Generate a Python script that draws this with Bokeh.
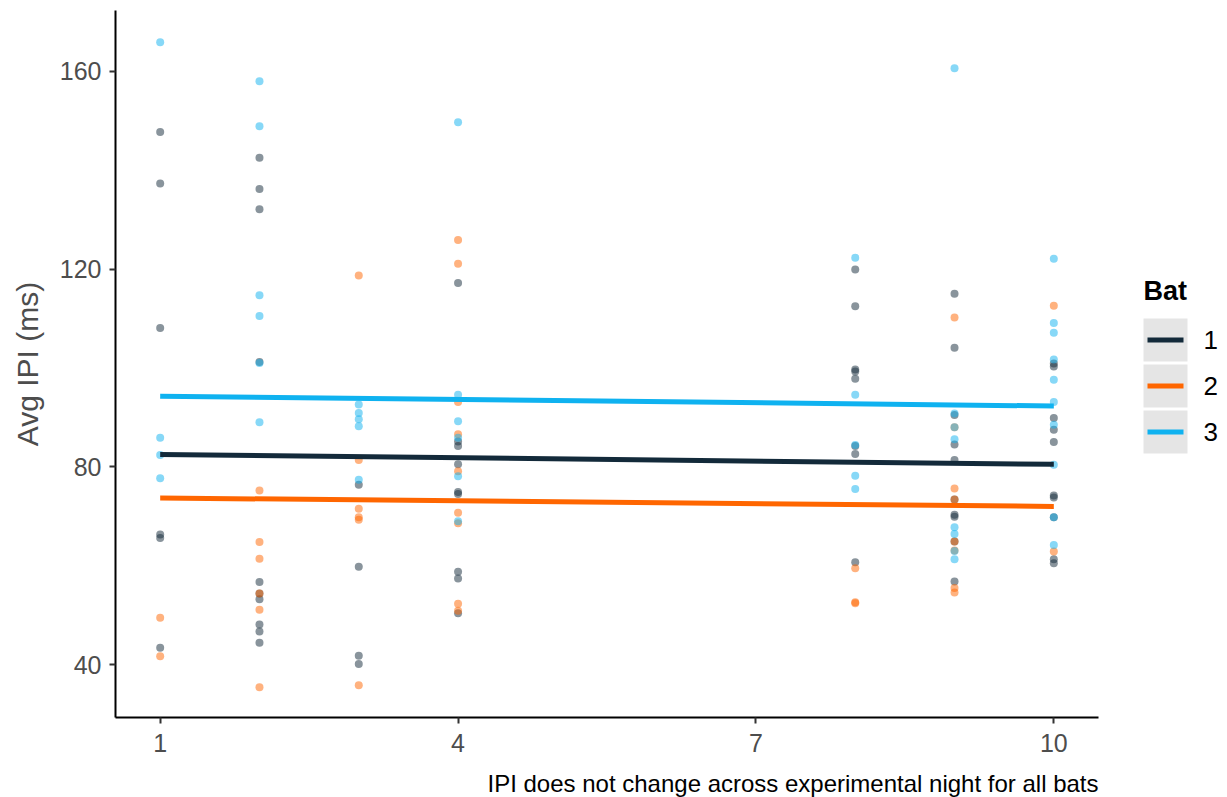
from bokeh.plotting import figure
from bokeh.models import Range1d, FixedTicker, ColumnDataSource
from bokeh.layouts import row, column
from bokeh.embed import file_html
from bokeh.resources import INLINE
from bokeh.core.properties import value

# ---- data: average inter-pulse interval (ms) per experimental night ----
bats = ["1", "2", "3"]
bat_colors = ["#132a3a", "#ff6600", "#0fb2f0"]

bat1_night = [1, 1, 1, 1, 1, 1,
              2, 2, 2, 2, 2, 2, 2, 2, 2, 2,
              3, 3, 3, 3,
              4, 4, 4, 4, 4, 4, 4, 4, 4,
              8, 8, 8, 8, 8, 8, 8, 8,
              9, 9, 9, 9, 9, 9, 9, 9, 9, 9,
              10, 10, 10, 10, 10, 10, 10, 10, 10, 10]
bat1_ipi = [147.7, 137.3, 108.1, 66.3, 65.6, 43.4,
            142.5, 136.2, 132.1, 101.2, 56.7, 54.4, 53.2, 48.1, 46.7, 44.4,
            76.4, 59.8, 41.8, 40.1,
            117.2, 85.1, 84.2, 80.5, 74.9, 74.5, 58.8, 57.4, 50.4,
            119.9, 112.5, 99.7, 99.3, 97.8, 84.2, 82.6, 60.7,
            115.0, 104.1, 90.5, 84.5, 81.4, 73.4, 70.3, 69.9, 64.9, 56.8,
            100.9, 100.3, 89.9, 87.5, 85.0, 74.2, 73.8, 69.8, 61.3, 60.5]

bat2_night = [1, 1,
              2, 2, 2, 2, 2, 2,
              3, 3, 3, 3, 3, 3,
              4, 4, 4, 4, 4, 4, 4, 4, 4,
              8, 8, 8,
              9, 9, 9, 9, 9, 9, 9, 9,
              10, 10]
bat2_ipi = [49.5, 41.7,
            75.2, 64.8, 61.4, 54.4, 51.1, 35.4,
            118.7, 81.4, 71.5, 69.8, 69.3, 35.8,
            125.9, 121.1, 93.1, 86.6, 79.1, 70.7, 68.6, 52.3, 50.9,
            59.5, 52.6, 52.4,
            110.2, 88.0, 75.6, 73.4, 64.9, 63.1, 55.5, 54.6,
            112.6, 62.9]

bat3_night = [1, 1, 1, 1,
              2, 2, 2, 2, 2, 2,
              3, 3, 3, 3, 3,
              4, 4, 4, 4, 4, 4,
              8, 8, 8, 8, 8,
              9, 9, 9, 9, 9, 9, 9, 9,
              10, 10, 10, 10, 10, 10, 10, 10, 10, 10]
bat3_ipi = [165.9, 85.9, 82.4, 77.7,
            158.0, 148.9, 114.7, 110.5, 101.0, 89.0,
            92.6, 90.9, 89.6, 88.2, 77.4,
            149.7, 94.6, 89.2, 85.9, 78.1, 69.0,
            122.3, 94.6, 84.4, 78.2, 75.5,
            160.6, 90.8, 88.0, 85.6, 67.8, 66.4, 63.0, 61.3,
            122.1, 109.1, 107.1, 101.7, 97.6, 93.1, 88.5, 80.4, 69.8, 64.2]

# linear fit of IPI on night, evaluated at the first and last night
fit_nights = [1, 10]
fit_start = [82.5, 73.7, 94.3]
fit_end = [80.5, 72.0, 92.3]

x_ticks = [1, 4, 7, 10]
y_ticks = [40, 80, 120, 160]

caption_text = "IPI does not change across experimental night for all bats"

FONT = "Liberation Sans"
PAGE_W, PAGE_H = 1227, 797
TOP, BOTTOM, LEFT, RIGHT = 10, 48, 115, 12
W = 1110
CAPTION_H = 32
H = PAGE_H - CAPTION_H

# ---- main panel ----
p = figure(width=W, height=H,
           x_range=Range1d(0.55, 10.45), y_range=Range1d(29.3, 172.3),
           output_backend="svg", toolbar_location=None, title_location=None,
           min_border_left=LEFT, min_border_right=RIGHT,
           min_border_top=TOP, min_border_bottom=BOTTOM)

p.xgrid.visible = False
p.ygrid.visible = False
p.outline_line_color = None
p.background_fill_color = "white"
p.border_fill_color = "white"

series = [(bat1_night, bat1_ipi), (bat2_night, bat2_ipi), (bat3_night, bat3_ipi)]
for (nights, ipis), col in zip(series, bat_colors):
    src = ColumnDataSource(dict(night=nights, ipi=ipis))
    p.scatter("night", "ipi", source=src, size=8, fill_color=col,
              fill_alpha=0.5, line_color=None)

for s, e, col in zip(fit_start, fit_end, bat_colors):
    p.line(fit_nights, [s, e], line_color=col, line_width=5)

for ax in (p.xaxis[0], p.yaxis[0]):
    ax.axis_line_color = "black"
    ax.axis_line_width = 2
    ax.major_tick_line_color = "#333333"
    ax.major_tick_line_width = 2
    ax.major_tick_out = 6
    ax.major_tick_in = 0
    ax.minor_tick_out = 0
    ax.minor_tick_in = 0
    ax.major_label_text_font = FONT
    ax.major_label_text_font_size = "25px"
    ax.major_label_text_color = "#4d4d4d"

p.xaxis.ticker = FixedTicker(ticks=x_ticks)
p.yaxis.ticker = FixedTicker(ticks=y_ticks)
p.xaxis.major_label_standoff = 10
p.yaxis.major_label_standoff = 8

p.yaxis.axis_label = "Avg IPI (ms)"
p.yaxis.axis_label_text_font = FONT
p.yaxis.axis_label_text_font_size = "30px"
p.yaxis.axis_label_text_font_style = "normal"
p.yaxis.axis_label_text_color = "#4d4d4d"
p.yaxis.axis_label_standoff = 13

# ---- legend panel: same vertical frame as the main panel, y in page pixels ----
lg = figure(width=PAGE_W - W, height=H, x_range=Range1d(0, PAGE_W - W),
            y_range=Range1d(H - BOTTOM, TOP),
            output_backend="svg", toolbar_location=None, title_location=None,
            x_axis_location=None, y_axis_location=None,
            min_border_left=0, min_border_right=0,
            min_border_top=TOP, min_border_bottom=BOTTOM)
lg.outline_line_color = None
lg.grid.visible = False

key_left, key_w, key_h, key_gap = 33, 44, 43, 46
key_top0 = 318
key_cy = [key_top0 + key_h / 2 + i * key_gap for i in range(len(bats))]
key_cx = [key_left + key_w / 2] * len(bats)

lg.rect(x=key_cx, y=key_cy, width=key_w, height=key_h,
        fill_color="#e5e5e5", line_color=None)
lg.segment(x0=[key_left + 4] * len(bats), y0=key_cy,
           x1=[key_left + key_w - 4] * len(bats), y1=key_cy,
           line_color=bat_colors, line_width=5)
lg.text(x=[key_left + key_w + 16] * len(bats), y=key_cy, text=bats,
        text_baseline="middle", text_align="left",
        text_font=value(FONT), text_font_size=value("26px"), text_color="black")
lg.text(x=[key_left], y=[290], text=["Bat"], text_baseline="middle",
        text_align="left", text_font=value(FONT), text_font_size=value("27px"),
        text_font_style="bold", text_color="black")

# ---- caption strip: right-aligned with the panel's right edge ----
cap = figure(width=PAGE_W, height=CAPTION_H, x_range=Range1d(0, PAGE_W),
             y_range=Range1d(CAPTION_H, 0),
             output_backend="svg", toolbar_location=None, title_location=None,
             x_axis_location=None, y_axis_location=None, min_border=0)
cap.outline_line_color = None
cap.grid.visible = False
cap.text(x=[W - RIGHT], y=[18], text=[caption_text], text_align="right",
         text_baseline="middle", text_font=value(FONT),
         text_font_size=value("24px"), text_color="black")

layout = column(row(p, lg), cap)
open("out.html", "w").write(file_html(layout, INLINE))
